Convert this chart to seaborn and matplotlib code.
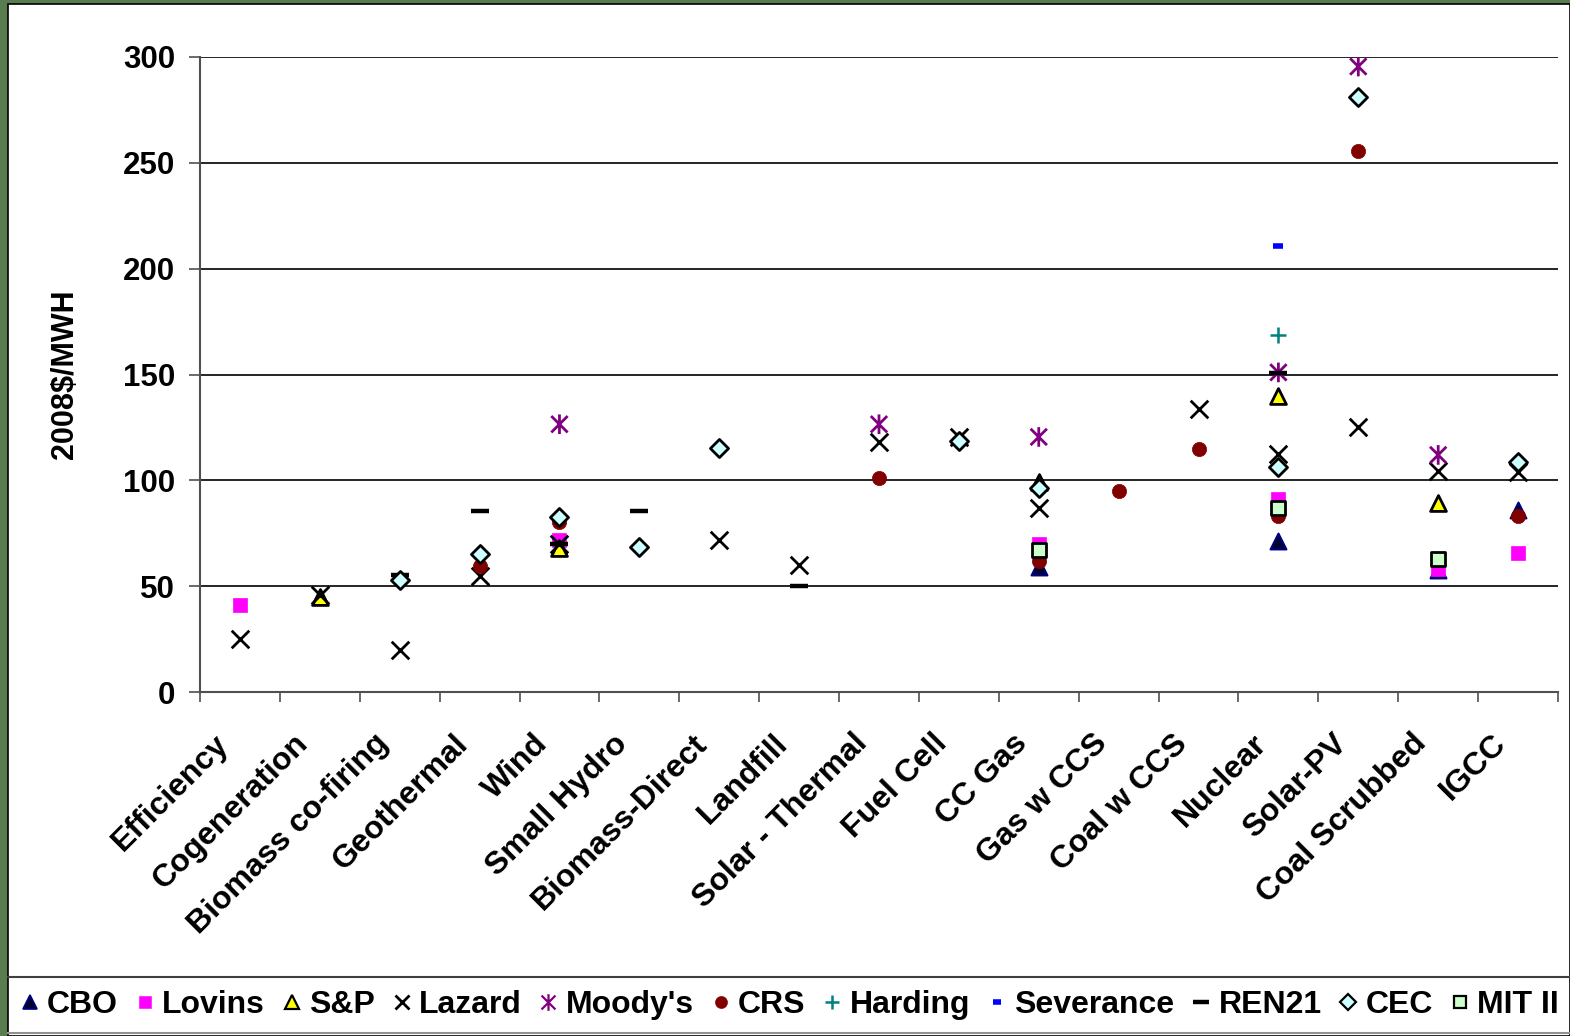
import numpy as np
import pandas as pd
import matplotlib
matplotlib.use("Agg")
import matplotlib.pyplot as plt
from matplotlib.path import Path
from matplotlib.lines import Line2D
from matplotlib.patches import Rectangle
from matplotlib.transforms import ScaledTranslation
import seaborn as sns

nan = np.nan

# categories along the x axis
categories = ["Efficiency", "Cogeneration", "Biomass co-firing", "Geothermal", "Wind",
              "Small Hydro", "Biomass-Direct", "Landfill", "Solar - Thermal", "Fuel Cell",
              "CC Gas", "Gas w CCS", "Coal w CCS", "Nuclear", "Solar-PV",
              "Coal Scrubbed", "IGCC"]

# 2008$/MWH per source, one value per category (nan = no estimate)
cbo       = [nan, nan, nan, nan, nan, nan, nan, nan, nan, nan, 59, nan, nan, 71.5, nan, 57.5, 86]
lovins    = [41, nan, nan, nan, 72, nan, nan, nan, nan, nan, 70, nan, nan, 91, nan, 58, 65.5]
sp        = [nan, 45, nan, nan, 68, nan, nan, nan, nan, nan, 99, nan, nan, 140, nan, 89.5, nan]
lazard    = [25, 46, 20, 55, 70, nan, 72, 60, 118, 120.5, 87, nan, 133.5, 112.5, 125, 104.5, 104]
moodys    = [nan, nan, nan, nan, 126.5, nan, nan, nan, 126.5, nan, 120.5, nan, nan, 151, 295.5, 112, nan]
crs       = [nan, nan, nan, 59.5, 80.5, nan, nan, nan, 101, nan, 62, 95, 115, 83, 255.5, nan, 83]
harding   = [nan, nan, nan, nan, nan, nan, nan, nan, nan, nan, nan, nan, nan, 168.5, nan, nan, nan]
severance = [nan, nan, nan, nan, nan, nan, nan, nan, nan, nan, nan, nan, nan, 210.5, nan, nan, nan]
ren21     = [nan, nan, 55.5, 85.5, 70, 85.5, nan, 50, nan, nan, nan, nan, nan, 150.5, nan, nan, nan]
cec       = [nan, nan, 53, 65, 82.5, 68.5, 115.5, nan, nan, 118.5, 96.5, nan, nan, 106.5, 281, nan, 108.5]
mit2      = [nan, nan, nan, nan, nan, nan, nan, nan, nan, nan, 67, nan, nan, 87, nan, 63, nan]

source_names = ["CBO", "Lovins", "S&P", "Lazard", "Moody's", "CRS", "Harding",
                "Severance", "REN21", "CEC", "MIT II"]
source_values = [cbo, lovins, sp, lazard, moodys, crs, harding, severance, ren21, cec, mit2]

# excel style "star": an x with a vertical bar through it
star = Path([(-0.5, -0.5), (0.5, 0.5), (-0.5, 0.5), (0.5, -0.5), (0, -0.6), (0, 0.6)],
            [Path.MOVETO, Path.LINETO, Path.MOVETO, Path.LINETO, Path.MOVETO, Path.LINETO])

# marker, face, edge, size, line width
styles = {
    "CBO":       ("^", "#000033", "#000080", 130, 1.5),
    "Lovins":    ("s", "#ff00ff", "#ff00ff", 95, 0.5),
    "S&P":       ("^", "#ffff00", "black", 130, 2),
    "Lazard":    ("x", "black", None, 160, 2),
    "Moody's":   (star, "none", "#800080", 200, 2),
    "CRS":       ("o", "#800000", "#800000", 105, 0.5),
    "Harding":   ("+", "#008080", None, 140, 1.8),
    "Severance": ("_", "#0000ff", None, 50, 4),
    "REN21":     ("_", "black", None, 170, 3.2),
    "CEC":       ("D", "#ccffff", "black", 85, 2),
    "MIT II":    ("s", "#ccffcc", "black", 90, 2),
}

plt.rcParams["font.family"] = ["Liberation Sans", "DejaVu Sans"]
plt.rcParams["font.weight"] = "bold"

fig = plt.figure(figsize=(15.7, 10.36), dpi=100)
fig.patch.set_facecolor("#5a7d50")
fig.patches.append(Rectangle((8 / 1570, 0), 1 - 8 / 1570, 1 - 4 / 1036, transform=fig.transFigure,
                             facecolor="white", edgecolor="black", linewidth=1.2, zorder=-5))

ax = fig.add_axes([200 / 1570, 344 / 1036, 1358 / 1570, 635 / 1036])
ax.set_facecolor("white")

x = np.arange(len(categories))
for i, (name, vals) in enumerate(zip(source_names, source_values)):
    m, fc, ec, s, lw = styles[name]
    df = pd.DataFrame({"x": x, "y": vals}).dropna()
    if ec is None:
        sns.scatterplot(data=df, x="x", y="y", ax=ax, marker=m, color=fc, s=s,
                        linewidth=lw, edgecolor=None, zorder=3 + i)
    else:
        sns.scatterplot(data=df, x="x", y="y", ax=ax, marker=m, facecolor=fc, edgecolor=ec,
                        s=s, linewidth=lw, zorder=3 + i)

ax.set_xlim(-0.5, len(categories) - 0.5)
ax.set_ylim(0, 300)
ax.set_yticks(range(0, 301, 50))
ax.grid(axis="y", color="black", linewidth=1.2)
ax.set_axisbelow(True)
for sp_name in ["top", "right"]:
    ax.spines[sp_name].set_visible(False)
ax.spines["left"].set_color("#505050")
ax.spines["bottom"].set_color("#505050")
ax.spines["left"].set_linewidth(1.5)
ax.spines["bottom"].set_linewidth(1.5)

ax.tick_params(axis="y", length=8, width=1.2, color="#505050", labelsize=22.5, pad=10)
ax.set_xticks(x)
ax.set_xticks(np.arange(-0.5, len(categories), 1), minor=True)
ax.tick_params(axis="x", which="major", length=0, pad=34)
ax.tick_params(axis="x", which="minor", length=7, width=1.2, color="#505050")
ax.set_xticklabels(categories, rotation=45, ha="right", va="center",
                   rotation_mode="anchor", fontsize=23, fontweight="bold")
for lab in ax.get_xticklabels():
    lab.set_transform(lab.get_transform() + ScaledTranslation(-0.16, 0, fig.dpi_scale_trans))
for lab in ax.get_yticklabels():
    lab.set_fontweight("bold")

ax.set_xlabel("")
ax.set_ylabel("2008$/MWH", fontsize=22, fontweight="bold")
ax.yaxis.set_label_coords(-0.088, 0.5)

# legend strip at the bottom
handles = []
for name in source_names:
    m, fc, ec, s, lw = styles[name]
    ms = np.sqrt(s) * 0.85
    if ec is None:
        h = Line2D([], [], linestyle="none", marker=m, color=fc, markersize=ms, markeredgewidth=lw)
    else:
        h = Line2D([], [], linestyle="none", marker=m, markerfacecolor=fc, markeredgecolor=ec,
                   markersize=ms, markeredgewidth=lw * 0.8)
    handles.append(h)
fig.legend(handles, source_names, loc="center left", bbox_to_anchor=(20 / 1570, 31 / 1036), ncol=11,
           frameon=False, handlelength=0.6, handletextpad=0.25, columnspacing=0.53,
           borderpad=0, borderaxespad=0, prop={"size": 23, "weight": "bold"})
fig.add_artist(Line2D([8 / 1570, 1], [1 - 977 / 1036] * 2, transform=fig.transFigure,
                      color="#404040", linewidth=1.5))
fig.add_artist(Line2D([8 / 1570, 1], [1 - 1033 / 1036] * 2, transform=fig.transFigure,
                      color="#909090", linewidth=1.5))

fig.savefig("out.png", dpi=100, facecolor=fig.get_facecolor())
